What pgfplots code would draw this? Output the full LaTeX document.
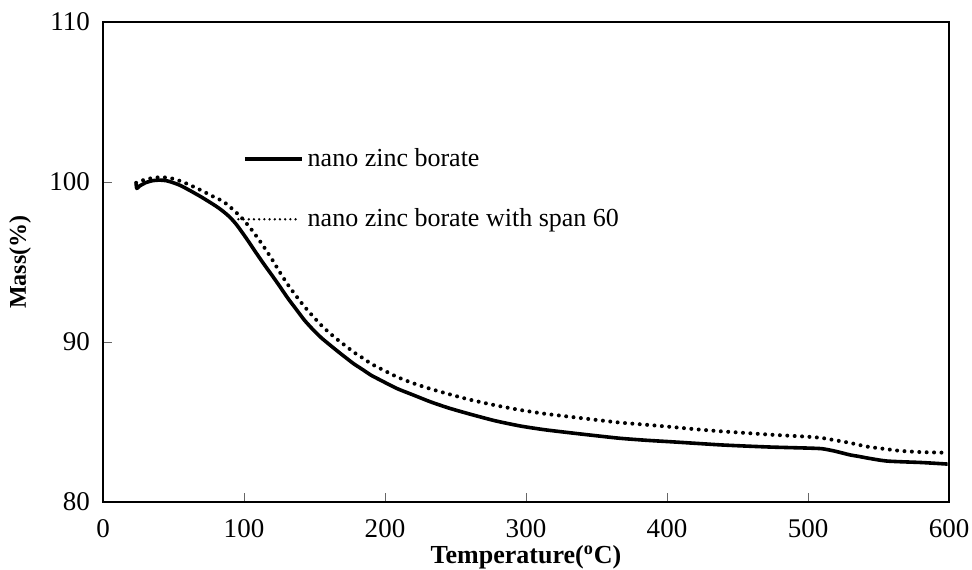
\documentclass[border=0pt]{standalone}
\usepackage{pgfplots}
\pgfplotsset{compat=1.18}
\usepackage{fontspec}
\setmainfont{Liberation Serif}
\begin{document}
\fontsize{13}{15}\selectfont
\begin{tikzpicture}
\begin{axis}[
  at={(0,0)}, anchor=south west,
  width=423pt, height=240pt, scale only axis,
  xmin=0, xmax=600, ymin=80, ymax=110,
  xtick={0,100,...,600}, ytick={80,90,100,110},
  tick align=inside, xtick pos=bottom, ytick pos=left,
  major tick length=4.5pt,
  tick style={line width=0.4pt, black!60},
  axis line style={line width=1pt},
  /pgf/number format/assume math mode=true,
  ticklabel style={font=\fontsize{13.5}{15}\selectfont},
  yticklabel style={xshift=-2pt},
  xticklabel style={yshift=-4pt},
  xlabel={\textbf{Temperature(\textsuperscript{o}C)}},
  ylabel={\textbf{Mass(\%)}},
  xlabel style={font=\fontsize{13}{15}\selectfont, at={(axis description cs:0.5,0)}, anchor=center, yshift=-27.5pt},
  ylabel style={font=\fontsize{12}{14}\selectfont, at={(axis description cs:0,0.5)}, anchor=center, yshift=41.5pt},
  clip=false,
]
% nano zinc borate (solid)
\addplot[black, line width=1.8pt, line join=round, smooth, tension=0.4] coordinates {
(23.5,99.9)(24,99.6)(26,99.75)(30,99.95)(35,100.08)(40,100.12)(45,100.08)(50,99.95)(55,99.78)(62,99.45)(70,99.05)(80,98.5)(85,98.18)(90,97.8)(95,97.3)(101.9,96.45)(107,95.78)(113.7,94.92)(120,94.15)(125.5,93.46)(131,92.75)(137.4,92.0)(143,91.35)(149.2,90.75)(155,90.25)(161,89.81)(167,89.38)(172.8,88.98)(178,88.63)(184.6,88.25)(190,87.93)(196.5,87.63)(208.3,87.1)(220,86.69)(232,86.27)(245,85.88)(260,85.5)(278,85.08)(296,84.75)(313,84.52)(331,84.33)(350,84.14)(367,83.98)(385,83.86)(402,83.77)(420,83.67)(438,83.57)(455,83.5)(475,83.43)(500,83.37)(510,83.33)(518,83.2)(525,83.05)(530,82.94)(536,82.85)(542,82.75)(550,82.63)(556,82.56)(565,82.52)(580,82.47)(590,82.42)(599,82.37)
};
% nano zinc borate with span 60 (dotted)
\addplot[black, line width=2pt, line cap=round, dash pattern=on 0pt off 3.7pt, smooth, tension=0.4] coordinates {
(23.5,99.95)(26,100.05)(30,100.15)(35,100.25)(42,100.3)(50,100.2)(58,99.95)(68,99.55)(78,99.1)(85,98.8)(90,98.45)(95,98.05)(99.5,97.65)(106,96.95)(113.7,96.0)(120,95.15)(125.5,94.35)(131,93.6)(137.4,92.83)(143,92.2)(149.2,91.58)(155,91.03)(161,90.54)(167,90.1)(172.8,89.71)(178,89.35)(184.6,88.98)(190,88.65)(196.5,88.35)(208.3,87.83)(220,87.42)(232,87.08)(245,86.75)(260,86.4)(278,86.05)(296,85.75)(313,85.52)(331,85.33)(350,85.13)(367,84.96)(385,84.83)(402,84.7)(420,84.55)(438,84.42)(455,84.32)(475,84.2)(500,84.08)(510,84.0)(518,83.88)(530,83.69)(542,83.46)(556,83.3)(565,83.2)(580,83.12)(599,83.08)
};
% legend leader lines
\addplot[black, line width=1.6pt] coordinates {(100.7,101.44)(140.9,101.44)};
\addplot[black, line width=1.3pt, line cap=round, dash pattern=on 0pt off 2.6pt] coordinates {(96,97.67)(138,97.67)};
\node[anchor=base west, inner sep=0pt, font=\fontsize{13}{15}\selectfont] at (axis cs:144.9,101.0) {nano zinc borate};
\node[anchor=base west, inner sep=0pt, font=\fontsize{13}{15}\selectfont] at (axis cs:144.9,97.2) {nano zinc borate with span 60};
\end{axis}
\pgfresetboundingbox
\useasboundingbox (-51.5pt,-33.5pt) rectangle (434.5pt,251pt);
\end{tikzpicture}
\end{document}
